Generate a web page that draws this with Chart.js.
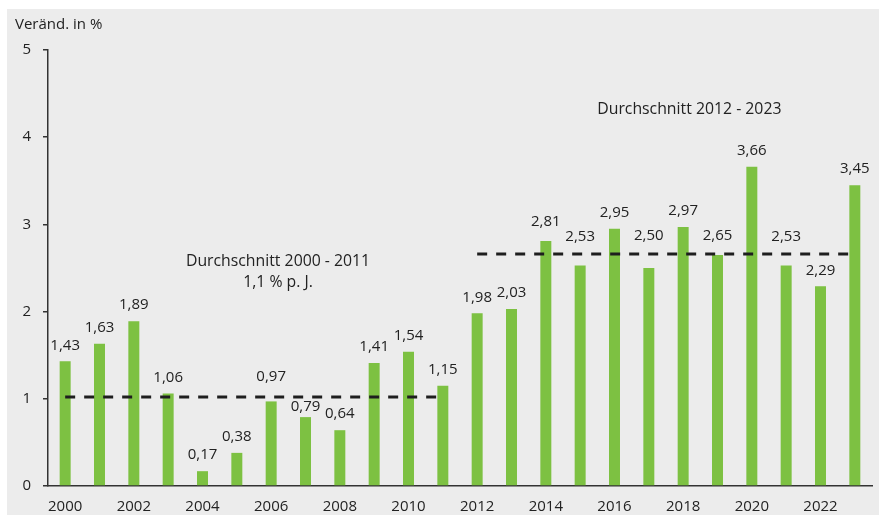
<!DOCTYPE html>
<html>
<head>
<meta charset="utf-8">
<script src="https://cdn.jsdelivr.net/npm/chart.js@4"></script>
<style>
  html, body { margin: 0; padding: 0; background: #ffffff; }
  #wrap { width: 879px; height: 515px; position: relative; }
</style>
</head>
<body>
<div id="wrap"><canvas id="c" width="879" height="515"></canvas></div>
<script>
// ---- data ----
const years = ['2000','2001','2002','2003','2004','2005','2006','2007','2008','2009','2010','2011',
               '2012','2013','2014','2015','2016','2017','2018','2019','2020','2021','2022','2023'];
const values = [1.43,1.63,1.89,1.06,0.17,0.38,0.97,0.79,0.64,1.41,1.54,1.15,
                1.98,2.03,2.81,2.53,2.95,2.50,2.97,2.65,3.66,2.53,2.29,3.45];
const avgEarly = 1.02;   // dashed line level 2000-2011 (as drawn)
const avgLate = 2.66;    // dashed line level 2012-2023 (as drawn)
const yTickValues = [0, 1, 2, 3, 4, 5];
const yTitle = 'Veränd. in %';
const noteEarly = ['Durchschnitt 2000 - 2011', '1,1 % p. J.'];
const noteLate = ['Durchschnitt 2012 - 2023'];

const FONT = '"Open Sans", "Noto Sans", sans-serif';
const TXT = '#222222';

const earlyLine = years.map((y, i) => i <= 11 ? avgEarly : null);
const lateLine = years.map((y, i) => i >= 12 ? avgLate : null);

// label vertical adjustments (px) to avoid dashed lines, as in the reference
const labelShift = { '2006': -9, '2007': 6, '2014': -3, '2015': -13, '2017': -16, '2019': -3, '2021': -13 };

const bgPlugin = {
  id: 'bg',
  beforeDraw(chart) {
    const ctx = chart.ctx;
    ctx.save();
    ctx.fillStyle = '#ffffff';
    ctx.fillRect(0, 0, chart.width, chart.height);
    ctx.fillStyle = '#ececec';
    ctx.fillRect(7, 9, chart.width - 7, chart.height - 9);
    ctx.restore();
  }
};

const textPlugin = {
  id: 'texts',
  afterDatasetsDraw(chart) {
    const ctx = chart.ctx;
    const xs = chart.scales.x, ys = chart.scales.y;
    ctx.save();
    ctx.fillStyle = TXT;
    // value labels
    ctx.font = '15px ' + FONT;
    ctx.textAlign = 'center';
    ctx.textBaseline = 'middle';
    const meta = chart.getDatasetMeta(0);
    meta.data.forEach((bar, i) => {
      const s = values[i].toFixed(2).replace('.', ',');
      const shift = labelShift[years[i]] || 0;
      ctx.fillText(s, bar.x, bar.y - 16 + shift);
    });
    // notes
    ctx.font = '15.8px ' + FONT;
    const ex = xs.getPixelForValue(6.2);
    ctx.fillText(noteEarly[0], ex, ys.getPixelForValue(2.58));
    ctx.fillText(noteEarly[1], ex, ys.getPixelForValue(2.33));
    const lx = xs.getPixelForValue(18.18);
    ctx.fillText(noteLate[0], lx, ys.getPixelForValue(4.32));
    // y title
    ctx.font = '15px ' + FONT;
    ctx.textAlign = 'left';
    ctx.fillText(yTitle, 15, 25);
    ctx.restore();
  }
};

new Chart(document.getElementById('c'), {
  type: 'bar',
  data: {
    labels: years,
    datasets: [
      {
        type: 'bar',
        data: values,
        backgroundColor: '#7dc142',
        borderWidth: 0,
        barPercentage: 0.32,
        categoryPercentage: 1,
        order: 2
      },
      {
        type: 'line',
        data: earlyLine,
        borderColor: '#1e1e1e',
        borderWidth: 3,
        borderDash: [10, 9],
        pointRadius: 0,
        fill: false,
        spanGaps: false,
        order: 1
      },
      {
        type: 'line',
        data: lateLine,
        borderColor: '#1e1e1e',
        borderWidth: 3,
        borderDash: [10, 9],
        pointRadius: 0,
        fill: false,
        spanGaps: false,
        order: 1
      }
    ]
  },
  options: {
    responsive: false,
    animation: false,
    devicePixelRatio: 1,
    layout: { padding: { left: 0, top: 50, right: 7, bottom: 0 } },
    plugins: { legend: { display: false }, tooltip: { enabled: false } },
    scales: {
      x: {
        offset: true,
        grid: { display: true, drawOnChartArea: false, drawTicks: false, color: 'rgba(0,0,0,0)' },
        border: { display: true, color: '#333333', width: 1.5 },
        ticks: {
          autoSkip: false,
          maxRotation: 0,
          padding: 12,
          color: TXT,
          font: { family: FONT, size: 15 },
          callback: function(v, i) { return i % 2 === 0 ? years[i] : ''; }
        },
        afterFit(scale) { scale.height = 29; }
      },
      y: {
        min: 0, max: 5,
        afterBuildTicks(scale) { scale.ticks = yTickValues.map(v => ({ value: v })); },
        grid: { display: true, drawOnChartArea: false, drawTicks: true, tickLength: 5, color: '#333333', lineWidth: 1.5 },
        border: { display: true, color: '#333333', width: 1.5 },
        ticks: {
          padding: 12,
          color: TXT,
          font: { family: FONT, size: 15 },
          callback: v => String(v)
        },
        afterFit(scale) { scale.width = 48; }
      }
    }
  },
  plugins: [bgPlugin, textPlugin]
});
</script>
</body>
</html>
